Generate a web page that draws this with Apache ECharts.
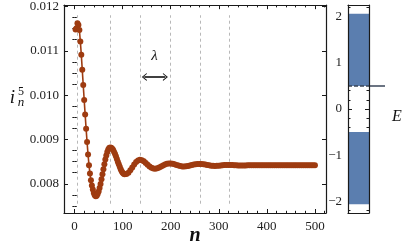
<!DOCTYPE html>
<html><head><meta charset="utf-8">
<script src="https://cdn.jsdelivr.net/npm/echarts@6/dist/echarts.min.js"></script>
<style>html,body{margin:0;padding:0;background:#fff}#c{width:405px;height:251px}</style>
</head><body><div id="c"></div>
<script>
// ---- data ----
const nValues = [2,4,6,8,10,12,14,16,18,20,22,24,26,28,30,32,34,36,38,40,42,44,46,48,50,52,54,56,58,60,62,64,66,68,70,72,74,76,78,80,82,84,86,88,90,92,94,96,98,100,102,104,
108,112,116,120,124,128,132,136,140,144,148,152,156,160,164,168,172,176,180,184,188,192,196,200,204,208,212,216,220,224,228,232,236,240,244,248,252,256,260,264,268,272,276,280,284,288,292,296,300,304,308,312,316,320,324,328,332,336,340,344,348,352,356,360,364,368,372,376,380,384,388,392,396,400,404,408,412,416,420,424,428,432,436,440,444,448,452,456,460,464,468,472,476,480,484,488,492,496,500];
const iValues = [0.01148,0.01151,0.01162,0.01158,0.01147,0.01121,0.01091,0.01057,0.01023,0.00989,0.00956,0.00924,0.00894,0.00866,0.00842,0.00823,0.00808,0.00796,0.00787,0.00779,0.00774,0.00772,
0.007732,0.007767,0.007825,0.007902,0.007995,0.008100,0.008212,0.008328,0.008440,0.008545,0.008638,0.008715,0.008773,0.008808,0.00882,
0.008814,0.008795,0.008765,0.008725,0.008676,0.008621,0.008561,0.008499,0.008438,0.008381,0.008328,0.008284,0.008248,0.008224,0.008212,
0.008218,0.008250,0.008302,0.008367,0.008432,0.008489,0.008527,0.008540,0.008531,0.008507,0.008471,0.008430,0.008390,0.008359,0.008342,0.008341,0.008350,0.008367,0.008388,0.008412,0.008433,0.008450,0.008459,0.008459,0.008452,0.008440,0.008425,0.008410,0.008398,0.008392,0.008391,0.008395,0.008403,0.008413,0.008424,0.008434,0.008442,0.008447,0.008448,0.008446,0.008440,0.008432,0.008423,0.008415,0.008408,0.008404,0.008403,0.008405,0.008409,0.008414,0.008419,0.008423,0.008425,0.008426,0.008425,0.008422,0.008419,0.008416,0.008413,0.008411,0.008411,0.008412,0.008413,0.008415,0.008417,0.008418,0.008419,0.008419,0.008418,0.008417,0.008416,0.008416,0.008416,0.008416,0.008417,0.008417,0.008418,0.008418,0.008418,0.008417,0.008417,0.008417,0.008417,0.008417,0.008417,0.008418,0.008418,0.008418,0.008417,0.008417,0.008417,0.008417,0.008417,0.008417,0.008418,0.008418,0.008418,0.008417,0.008417];
const dashedN = [6, 75, 137, 199, 261, 322];
const lambdaArrowN = [145, 189];
const xMajorTicks = [0,100,200,300,400,500];
const xMinorTicks = [20,40,60,80,120,140,160,180,220,240,260,280,320,340,360,380,420,440,460,480,520];
const yMajorTicks = [0.008,0.009,0.010,0.011,0.012];
const yMinorTicks = [0.0075,0.00775,0.00825,0.0085,0.00875,0.00925,0.0095,0.00975,0.01025,0.0105,0.01075,0.01125,0.0115,0.01175];
const eMajorTicks = [-2,-1,0,1,2];
const eMinorTicks = [-2.2,-1.8,-1.6,-1.4,-1.2,-0.8,-0.6,-0.4,-0.2,0.2,0.4,0.6,0.8,1.2,1.4,1.6,1.8,2.2];
const bandLow = [-2.06, 0.5];
const bandHigh = [-0.5, 2.06];
const eLevel = 0.5;

// ---- chart ----
const FONT = '"Liberation Serif", "DejaVu Serif", serif';
const INK = '#1a1a1a';
const CURVE = '#9e3b10';
const chart = echarts.init(document.getElementById('c'), null, {renderer: 'canvas'});
const lab = {fontFamily: FONT, fontSize: 13, color: '#222'};

function ax(grid, pos, min, max, opts) {
  return Object.assign({
    type: 'value', gridIndex: grid, position: pos, min: min, max: max,
    splitLine: {show: false},
    axisLine: {show: false, lineStyle: {color: INK, width: 1.2}},
    axisTick: {show: false},
    axisLabel: {show: false}
  }, opts);
}
function tickOpt(vals, len) {
  return {show: true, inside: true, length: len, customValues: vals, lineStyle: {color: INK, width: 1}};
}

const X0 = [-22, 523], Y0 = [0.00734, 0.01203], E0 = [-2.25, 2.25];

const xAxis = [
  ax(0, 'bottom', X0[0], X0[1], {z: 10, axisLine: {show: true, onZero: false, lineStyle: {color: INK, width: 1.2}},
    axisTick: tickOpt(xMajorTicks, 4),
    axisLabel: Object.assign({show: true, margin: 7, customValues: xMajorTicks}, lab)}),
  ax(0, 'bottom', X0[0], X0[1], {axisTick: tickOpt(xMinorTicks, 2.2)}),
  ax(0, 'top', X0[0], X0[1], {z: 10, axisLine: {show: true, onZero: false, lineStyle: {color: INK, width: 1.2}}, axisTick: tickOpt(xMajorTicks, 4)}),
  ax(0, 'top', X0[0], X0[1], {axisTick: tickOpt(xMinorTicks, 2.2)}),
  ax(1, 'bottom', 0, 1, {z: 10, axisLine: {show: true, onZero: false, lineStyle: {color: INK, width: 1.2}}}),
  ax(1, 'top', 0, 1, {z: 10, axisLine: {show: true, onZero: false, lineStyle: {color: INK, width: 1.2}}}),
  ax(2, 'bottom', 0, 1, {})
];
const yAxis = [
  ax(0, 'left', Y0[0], Y0[1], {z: 10, axisLine: {show: true, onZero: false, lineStyle: {color: INK, width: 1.2}},
    axisTick: tickOpt(yMajorTicks, 4),
    axisLabel: Object.assign({show: true, margin: 5, customValues: yMajorTicks, formatter: v => v.toFixed(3)}, lab)}),
  ax(0, 'left', Y0[0], Y0[1], {axisTick: tickOpt(yMinorTicks, 2.2)}),
  ax(0, 'right', Y0[0], Y0[1], {z: 10, axisLine: {show: true, onZero: false, lineStyle: {color: INK, width: 1.2}}, axisTick: tickOpt(yMajorTicks, 4)}),
  ax(0, 'right', Y0[0], Y0[1], {axisTick: tickOpt(yMinorTicks, 2.2)}),
  // right panel
  ax(1, 'left', E0[0], E0[1], {z: 10, axisLine: {show: true, onZero: false, lineStyle: {color: INK, width: 1.2}},
    axisLabel: Object.assign({show: true, margin: 6, customValues: eMajorTicks, formatter: v => String(v).replace('-', '\u2212')}, lab)}),
  ax(1, 'left', E0[0], E0[1], {z: 0, axisTick: tickOpt(eMajorTicks, 4)}),
  ax(1, 'left', E0[0], E0[1], {z: 0, axisTick: tickOpt(eMinorTicks, 2.5)}),
  ax(1, 'right', E0[0], E0[1], {z: 10, axisLine: {show: true, onZero: false, lineStyle: {color: INK, width: 1.2}}}),
  ax(1, 'right', E0[0], E0[1], {z: 0, axisTick: tickOpt(eMajorTicks, 4)}),
  ax(1, 'right', E0[0], E0[1], {z: 0, axisTick: tickOpt(eMinorTicks, 2.5)}),
  ax(2, 'left', E0[0], E0[1], {})
];

const curveData = nValues.map((n, i) => [n, iValues[i]]);
const dashedLines = dashedN.map(n => [{coord: [n, 0.00755]}, {coord: [n, 0.0118]}]);
const chevron = 'path://M5,0 L10,9 L8.6,9 L5,2.6 L1.4,9 L0,9 Z';
const arrowLine = [{coord: [lambdaArrowN[0], 0.01041], symbol: chevron, symbolSize: [8, 5],
  lineStyle: {color: '#111', type: 'solid', width: 1.6}},
  {coord: [lambdaArrowN[1], 0.01041], symbol: chevron, symbolSize: [8, 5]}];

const option = {
  animation: false,
  backgroundColor: '#fff',
  grid: [
    {left: 64, top: 5, width: 262, height: 208},
    {left: 348, top: 5, width: 21, height: 208},
    {left: 369, top: 5, width: 16, height: 208}
  ],
  xAxis: xAxis,
  yAxis: yAxis,
  series: [
    {
      type: 'line', xAxisIndex: 0, yAxisIndex: 0, data: curveData,
      symbol: 'circle', symbolSize: 6, showSymbol: true,
      itemStyle: {color: CURVE}, lineStyle: {color: CURVE, width: 1.6},
      z: 5,
      markLine: {
        silent: true, symbol: ['none', 'none'], label: {show: false},
        lineStyle: {color: '#b8b8b8', type: [3, 3], width: 1},
        data: dashedLines.concat([arrowLine])
      },
      markPoint: {
        silent: true, symbol: 'circle', symbolSize: 1, itemStyle: {color: 'rgba(0,0,0,0)'},
        label: {show: true, position: 'inside', formatter: '\u03bb', fontFamily: FONT, fontStyle: 'italic', fontSize: 15, color: '#111'},
        data: [{coord: [166, 0.01089]}]
      }
    },
    {
      type: 'line', xAxisIndex: 4, yAxisIndex: 4, data: [], z: 3,
      markArea: {
        silent: true, itemStyle: {color: '#5b7eaf'},
        data: bandLow.map((lo, i) => [{yAxis: lo}, {yAxis: bandHigh[i]}])
      },
      markLine: {
        silent: true, symbol: ['none', 'none'], label: {show: false},
        lineStyle: {color: '#3a4658', type: [4, 2], width: 1.5},
        data: [{yAxis: eLevel}]
      }
    },
    {
      type: 'line', xAxisIndex: 6, yAxisIndex: 10, data: [[0, eLevel], [1, eLevel]],
      symbol: 'none', lineStyle: {color: '#3a4658', width: 1.5}
    }
  ],
  graphic: [
    {type: 'text', style: {x: 12.5, y: 98, text: 'i', textAlign: 'center', textVerticalAlign: 'middle', font: 'italic 19px ' + FONT, fill: '#111'}},
    {type: 'text', style: {x: 21, y: 91.5, text: '5', textAlign: 'center', textVerticalAlign: 'middle', font: '12px ' + FONT, fill: '#111'}},
    {type: 'text', style: {x: 21, y: 103, text: 'n', textAlign: 'center', textVerticalAlign: 'middle', font: 'italic 13px ' + FONT, fill: '#111'}},
    {type: 'text', style: {x: 195, y: 236, text: 'n', textAlign: 'center', textVerticalAlign: 'middle', font: 'italic bold 20px ' + FONT, fill: '#111'}},
    {type: 'text', style: {x: 397, y: 117, text: 'E', textAlign: 'center', textVerticalAlign: 'middle', font: 'italic 16px ' + FONT, fill: '#111'}}
  ]
};
chart.setOption(option);
</script>
</body></html>
